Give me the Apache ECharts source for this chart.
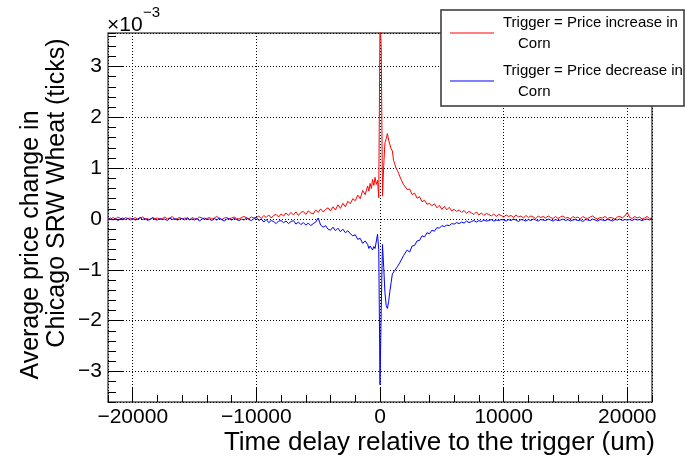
<!DOCTYPE html>
<html>
<head>
<meta charset="utf-8">
<script src="https://cdn.jsdelivr.net/npm/echarts@6/dist/echarts.min.js"></script>
<style>
  html, body { margin: 0; padding: 0; background: #fff; }
  #chart { width: 686px; height: 462px; }
</style>
</head>
<body>
<div id="chart"></div>
<script>
// bin centres (time delay), coarse outside, fine near the trigger
const delays = [];
for (let t = -22000; t < -1000; t += 200) delays.push(t);
for (let t = -1000; t < 2000; t += 100) delays.push(t);
for (let t = 2000; t <= 22000; t += 200) delays.push(t);

// average price change, units of 1e-3 ticks
// trigger = price increase in corn
const upVals = [
  0.02, -0.01, 0.03, 0.00, 0.04, 0.01, -0.02, 0.03, 0.01, 0.02,
  0.00, 0.03, -0.01, 0.02, 0.04, 0.00, 0.01, -0.02, 0.03, 0.01,
  0.02, -0.01, 0.01, 0.04, 0.00, 0.02, 0.05, -0.01, 0.01, 0.03,
  0.00, 0.02, 0.01, -0.02, 0.03, 0.01, 0.00, 0.04, 0.02, -0.01,
  0.01, 0.03, 0.00, 0.02, 0.05, 0.01, -0.01, 0.02, 0.03, 0.00,
  0.02, 0.04, 0.01, 0.00, 0.03, 0.05, 0.02, 0.01, 0.04, 0.02,
  0.03, 0.06, 0.01, 0.07, 0.03, 0.08, 0.02, 0.07, 0.09, 0.04,
  0.10, 0.06, 0.12, 0.07, 0.13, 0.08, 0.14, 0.07, 0.13, 0.15,
  0.09, 0.16, 0.12, 0.10, 0.18, 0.13, 0.20, 0.14, 0.19, 0.22,
  0.16, 0.24, 0.18, 0.28, 0.21, 0.31, 0.24, 0.35, 0.30, 0.40,
  0.36, 0.47, 0.40, 0.56, 0.48,
  // -1000 .. 1900
  0.65, 0.55, 0.70, 0.60, 0.78, 0.66, 0.82, 0.68, 0.76, 0.42,
  3.95, 3.37, 0.45, 1.05, 1.50, 1.58, 1.68, 1.55, 1.56, 1.38,
  1.34, 1.15, 1.08, 1.00, 0.96, 0.90, 0.88, 0.78, 0.76, 0.68,
  // 2000 .. 22000
  0.70, 0.58, 0.59, 0.48, 0.51, 0.41, 0.44, 0.34, 0.37, 0.29,
  0.31, 0.26, 0.30, 0.22, 0.27, 0.19, 0.25, 0.18, 0.23, 0.16,
  0.19, 0.15, 0.18, 0.13, 0.17, 0.11, 0.15, 0.12, 0.09, 0.14,
  0.08, 0.12, 0.07, 0.11, 0.09, 0.06, 0.10, 0.05, 0.09, 0.07,
  0.04, 0.08, 0.05, 0.07, 0.03, 0.08, 0.04, 0.06, 0.02, 0.07,
  0.03, 0.06, 0.04, 0.01, 0.06, 0.03, 0.05, 0.02, 0.06, 0.03,
  0.01, 0.05, 0.01, 0.04, 0.06, 0.02, 0.03, 0.00, 0.05, 0.02,
  0.04, 0.00, 0.05, 0.02, 0.01, 0.04, 0.06, 0.02, 0.00, 0.03,
  0.02, 0.05, 0.01, 0.03, 0.02, 0.00, 0.04, 0.05, 0.02, 0.06,
  0.13, 0.03, 0.01, 0.05, 0.02, 0.04, 0.00, 0.02, 0.05, 0.01,
  0.02
];

// trigger = price decrease in corn
const downVals = [
  -0.01, 0.02, -0.02, 0.01, -0.03, 0.00, 0.02, -0.01, 0.01, -0.02,
  0.01, -0.02, 0.00, 0.03, -0.01, 0.01, -0.03, 0.00, 0.02, -0.01,
  -0.02, 0.01, -0.01, 0.00, -0.03, 0.02, -0.01, 0.01, -0.02, 0.00,
  0.01, -0.02, 0.03, -0.01, 0.00, -0.02, 0.01, -0.04, 0.00, 0.02,
  -0.01, 0.00, -0.03, 0.01, -0.02, 0.02, -0.01, -0.04, 0.00, 0.01,
  -0.02, 0.01, -0.01, -0.03, 0.00, -0.02, 0.02, -0.01, -0.03, 0.01,
  0.03, -0.03, 0.00, -0.06, -0.01, -0.07, -0.03, -0.05, -0.09, -0.04,
  -0.03, -0.07, -0.04, -0.09, -0.05, -0.03, -0.10, -0.06, -0.11, -0.07,
  -0.12, -0.08, -0.13, -0.09, -0.06, 0.02, -0.12, -0.16, -0.13, -0.20,
  -0.22, -0.16, -0.23, -0.18, -0.25, -0.20, -0.27, -0.23, -0.29, -0.33,
  -0.31, -0.40, -0.38, -0.48, -0.43,
  // -1000 .. 1900
  -0.50, -0.58, -0.53, -0.56, -0.61, -0.54, -0.58, -0.55, -0.30, -0.60,
  -3.26, -1.75, -0.50, -0.95, -1.45, -1.70, -1.76, -1.62, -1.42, -1.25,
  -1.08, -1.05, -1.01, -1.04, -0.94, -0.92, -0.86, -0.81, -0.77, -0.72,
  // 2000 .. 22000
  -0.72, -0.61, -0.65, -0.53, -0.52, -0.43, -0.42, -0.33, -0.35, -0.27,
  -0.29, -0.22, -0.24, -0.17, -0.18, -0.13, -0.15, -0.12, -0.13, -0.09,
  -0.10, -0.07, -0.09, -0.06, -0.08, -0.04, -0.07, -0.05, -0.03, -0.06,
  -0.03, -0.05, -0.02, -0.04, -0.03, -0.01, -0.04, -0.02, -0.03, -0.01,
  -0.02, -0.04, -0.01, -0.03, 0.00, -0.02, -0.05, -0.01, -0.02, -0.04,
  -0.01, -0.03, 0.00, -0.02, -0.04, -0.01, -0.02, -0.03, 0.00, -0.02,
  -0.04, -0.01, -0.03, -0.02, 0.00, -0.03, -0.01, -0.04, -0.02, -0.01,
  -0.03, -0.02, -0.05, -0.01, -0.02, -0.03, 0.00, -0.02, -0.04, -0.01,
  -0.02, -0.03, -0.01, -0.02, -0.04, -0.01, -0.02, 0.00, -0.03, -0.01,
  -0.02, -0.01, -0.03, 0.00, -0.02, -0.01, -0.03, -0.01, 0.00, -0.02,
  0.01
];

const seriesNames = ['Trigger = Price increase in Corn', 'Trigger = Price decrease in Corn'];
const xTitle = 'Time delay relative to the trigger (um)';
const yTitle = ['Average price change in', 'Chicago SRW Wheat (ticks)'];

const font = 'Liberation Sans, Arial, Helvetica, sans-serif';
const minus = v => String(v).replace('-', '\u2212');

const myChart = echarts.init(document.getElementById('chart'));
myChart.setOption({
  animation: false,
  backgroundColor: '#fff',
  grid: {
    left: 108, right: 34, top: 33, bottom: 60,
    show: true, borderColor: '#555', borderWidth: 1.5
  },
  xAxis: [
    {
      type: 'value', min: -22000, max: 22000, position: 'bottom',
      axisLine: { show: false, onZero: false },
      axisTick: { inside: true, length: 14, lineStyle: { color: '#000' } },
      axisLabel: {
        showMinLabel: false, showMaxLabel: false, formatter: minus,
        fontSize: 21, color: '#000', fontFamily: font, margin: 5
      },
      splitLine: { show: true, lineStyle: { type: [1, 2], color: '#000', width: 1 } }
    },
    {
      // minor ticks
      type: 'value', min: -22000, max: 22000, interval: 2000, position: 'bottom',
      axisLine: { show: false, onZero: false },
      axisTick: { inside: true, length: 7, lineStyle: { color: '#000' } },
      axisLabel: { show: false },
      splitLine: { show: false }
    }
  ],
  yAxis: [
    {
      type: 'value', min: -3.6, max: 3.66, position: 'left',
      axisLine: { show: false, onZero: false },
      axisTick: { inside: true, length: 15, lineStyle: { color: '#000' } },
      axisLabel: {
        showMinLabel: false, showMaxLabel: false, formatter: minus,
        fontSize: 21, color: '#000', fontFamily: font, margin: 6
      },
      splitLine: { show: true, lineStyle: { type: [1, 2], color: '#000', width: 1 } }
    },
    {
      // minor ticks
      type: 'value', min: -3.6, max: 3.66, interval: 0.2, position: 'left',
      axisLine: { show: false, onZero: false },
      axisTick: { inside: true, length: 8, lineStyle: { color: '#000' } },
      axisLabel: { show: false },
      splitLine: { show: false }
    }
  ],
  series: [
    {
      name: seriesNames[0], type: 'line', xAxisIndex: 0, yAxisIndex: 0,
      data: delays.map((d, i) => [d, upVals[i]]),
      showSymbol: false, lineStyle: { width: 1, color: '#ff0000' }
    },
    {
      name: seriesNames[1], type: 'line', xAxisIndex: 0, yAxisIndex: 0,
      data: delays.map((d, i) => [d, downVals[i]]),
      showSymbol: false, lineStyle: { width: 1, color: '#0000ff' }
    }
  ],
  graphic: [
    { type: 'text', z: 100, x: 107, y: 25, style: { text: '\u00d710', font: '21px ' + font, fill: '#000', verticalAlign: 'middle' } },
    { type: 'text', z: 100, x: 143, y: 13, style: { text: '\u22123', font: '15px ' + font, fill: '#000', verticalAlign: 'middle' } },
    { type: 'text', z: 100, x: 655, y: 443, style: { text: xTitle, font: '26px ' + font, fill: '#000', align: 'right', verticalAlign: 'middle' } },
    { type: 'text', z: 100, x: 31, y: 245, rotation: Math.PI / 2, style: { text: yTitle[0], font: '25px ' + font, fill: '#000', align: 'center', verticalAlign: 'middle' } },
    { type: 'text', z: 100, x: 57, y: 193, rotation: Math.PI / 2, style: { text: yTitle[1], font: '25px ' + font, fill: '#000', align: 'center', verticalAlign: 'middle' } },
    // legend box
    { type: 'rect', z: 100, shape: { x: 441, y: 10, width: 243, height: 96 }, style: { fill: '#fff', stroke: '#333', lineWidth: 1.5 } },
    { type: 'line', z: 101, shape: { x1: 450, y1: 33, x2: 494, y2: 33 }, style: { stroke: '#ff0000', lineWidth: 1 } },
    { type: 'line', z: 101, shape: { x1: 450, y1: 81, x2: 494, y2: 81 }, style: { stroke: '#0000ff', lineWidth: 1 } },
    { type: 'text', z: 101, x: 503, y: 23, style: { text: 'Trigger = Price increase in', font: '15px ' + font, fill: '#000', verticalAlign: 'middle' } },
    { type: 'text', z: 101, x: 518, y: 44, style: { text: 'Corn', font: '15px ' + font, fill: '#000', verticalAlign: 'middle' } },
    { type: 'text', z: 101, x: 503, y: 71, style: { text: 'Trigger = Price decrease in', font: '15px ' + font, fill: '#000', verticalAlign: 'middle' } },
    { type: 'text', z: 101, x: 518, y: 92, style: { text: 'Corn', font: '15px ' + font, fill: '#000', verticalAlign: 'middle' } }
  ]
});
</script>
</body>
</html>
